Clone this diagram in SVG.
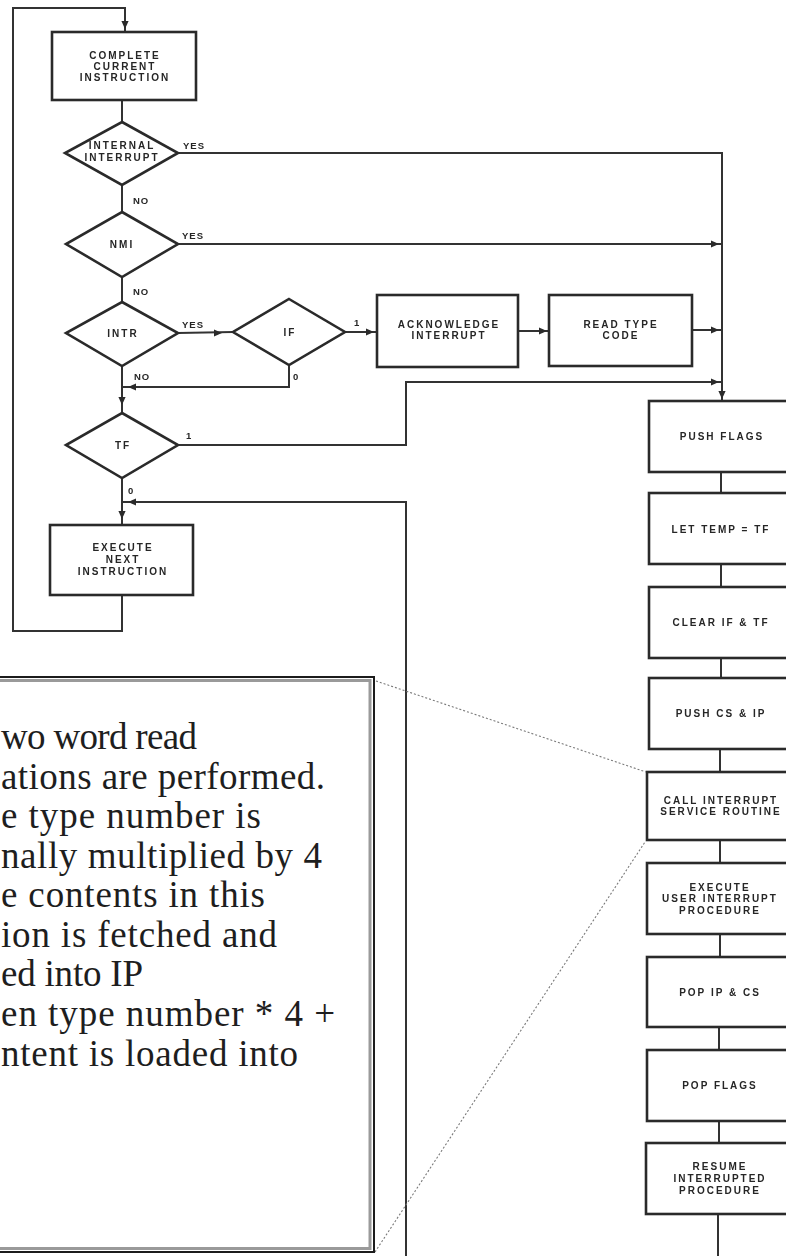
<svg xmlns="http://www.w3.org/2000/svg" xmlns:xlink="http://www.w3.org/1999/xlink" width="786" height="1256" viewBox="0 0 786 1256">
  <defs>
    <style>
      .box { fill: #ffffff; stroke: #2a2a2a; stroke-width: 2.6; }
      .dia { fill: #ffffff; stroke: #2a2a2a; stroke-width: 2.6; stroke-linejoin: miter; }
      .wire { fill: none; stroke: #333333; stroke-width: 2; }
      .lbl { font-family: "Liberation Sans", Arial, sans-serif; font-weight: bold; font-size: 10px; letter-spacing: 2px; fill: #262626; text-anchor: middle; }
      .tag { font-family: "Liberation Sans", Arial, sans-serif; font-weight: bold; font-size: 9.5px; letter-spacing: 1px; fill: #262626; }
      .note { font-family: "Liberation Serif", "Times New Roman", serif; font-size: 37px; fill: #1e1e1e; }
      .lead { fill: none; stroke: #7a7a7a; stroke-width: 1.1; stroke-dasharray: 2 2; }
    </style>
    <path id="ah" d="M0,0 L-8,-3.6 L-8,3.6 Z" fill="#2a2a2a"/>
    <filter id="soft" x="-5%" y="-5%" width="110%" height="110%">
      <feGaussianBlur stdDeviation="0.45"/>
    </filter>
  </defs>

  <rect x="0" y="0" width="786" height="1256" fill="#ffffff"/>

  <g filter="url(#soft)">
    <!-- connectors -->
    <g id="connectors">
      <!-- loop back from Execute Next Instruction to the top -->
      <polyline class="wire" points="122,595 122,631 13,631 13,8 125,8 125,32"/>
      <!-- decision chain down the left column -->
      <line class="wire" x1="122" y1="100" x2="122" y2="122"/>
      <line class="wire" x1="122" y1="185" x2="122" y2="212"/>
      <line class="wire" x1="122" y1="277" x2="122" y2="302"/>
      <line class="wire" x1="122" y1="366" x2="122" y2="413"/>
      <line class="wire" x1="122" y1="478" x2="122" y2="525"/>
      <!-- YES branches to the service sequence -->
      <polyline class="wire" points="178,153 722,153 722,401"/>
      <line class="wire" x1="178" y1="244" x2="722" y2="244"/>
      <line class="wire" x1="178" y1="333" x2="233" y2="332"/>
      <line class="wire" x1="345" y1="332" x2="377" y2="332"/>
      <line class="wire" x1="518" y1="331" x2="549" y2="331"/>
      <line class="wire" x1="692" y1="330" x2="722" y2="330"/>
      <!-- IF = 0 rejoins before TF -->
      <polyline class="wire" points="289,365 289,387 122,387"/>
      <!-- TF = 1 path -->
      <polyline class="wire" points="178,445 406,445 406,382 722,382"/>
      <!-- return from the service sequence -->
      <polyline class="wire" points="406,1256 406,502 122,502"/>
      <!-- right column links -->
      <line class="wire" x1="721" y1="472" x2="721" y2="493"/>
      <line class="wire" x1="721" y1="564" x2="721" y2="587"/>
      <line class="wire" x1="721" y1="658" x2="721" y2="678"/>
      <line class="wire" x1="720" y1="749" x2="720" y2="772"/>
      <line class="wire" x1="720" y1="840" x2="720" y2="863"/>
      <line class="wire" x1="720" y1="934" x2="720" y2="957"/>
      <line class="wire" x1="719" y1="1027" x2="719" y2="1050"/>
      <line class="wire" x1="719" y1="1121" x2="719" y2="1143"/>
      <line class="wire" x1="718" y1="1214" x2="718" y2="1256"/>

      <!-- arrowheads -->
      <use xlink:href="#ah" transform="translate(125,29) rotate(90)"/>
      <use xlink:href="#ah" transform="translate(222,333)"/>
      <use xlink:href="#ah" transform="translate(374,332)"/>
      <use xlink:href="#ah" transform="translate(547,331)"/>
      <use xlink:href="#ah" transform="translate(719,330)"/>
      <use xlink:href="#ah" transform="translate(719,244)"/>
      <use xlink:href="#ah" transform="translate(719,382)"/>
      <use xlink:href="#ah" transform="translate(722,399) rotate(90)"/>
      <use xlink:href="#ah" transform="translate(128,387) rotate(180)"/>
      <use xlink:href="#ah" transform="translate(122,405) rotate(90)"/>
      <use xlink:href="#ah" transform="translate(128,502) rotate(180)"/>
      <use xlink:href="#ah" transform="translate(122,519) rotate(90)"/>

      <!-- branch labels -->
      <text class="tag" x="183" y="149">YES</text>
      <text class="tag" x="133" y="204">NO</text>
      <text class="tag" x="182" y="239">YES</text>
      <text class="tag" x="133" y="295">NO</text>
      <text class="tag" x="182" y="328">YES</text>
      <text class="tag" x="354" y="326">1</text>
      <text class="tag" x="134" y="380">NO</text>
      <text class="tag" x="293" y="380">0</text>
      <text class="tag" x="186" y="439">1</text>
      <text class="tag" x="128" y="494">0</text>
    </g>

    <!-- left column -->
    <g id="complete-current">
      <rect class="box" x="52" y="32" width="144" height="68"/>
      <text class="lbl" x="125" y="59">COMPLETE</text>
      <text class="lbl" x="125" y="70">CURRENT</text>
      <text class="lbl" x="125" y="81">INSTRUCTION</text>
    </g>
    <g id="internal-interrupt">
      <polygon class="dia" points="122,122 178,153 122,185 65,153"/>
      <text class="lbl" x="122" y="149">INTERNAL</text>
      <text class="lbl" x="122" y="161">INTERRUPT</text>
    </g>
    <g id="nmi">
      <polygon class="dia" points="122,212 178,244 122,277 66,244"/>
      <text class="lbl" x="122" y="248">NMI</text>
    </g>
    <g id="intr">
      <polygon class="dia" points="122,302 178,333 122,366 66,333"/>
      <text class="lbl" x="123" y="337">INTR</text>
    </g>
    <g id="if">
      <polygon class="dia" points="289,299 345,332 289,365 233,332"/>
      <text class="lbl" x="290" y="336">IF</text>
    </g>
    <g id="acknowledge">
      <rect class="box" x="377" y="295" width="141" height="72"/>
      <text class="lbl" x="449" y="328">ACKNOWLEDGE</text>
      <text class="lbl" x="449" y="339">INTERRUPT</text>
    </g>
    <g id="read-type">
      <rect class="box" x="549" y="295" width="143" height="71"/>
      <text class="lbl" x="621" y="328">READ TYPE</text>
      <text class="lbl" x="621" y="339">CODE</text>
    </g>
    <g id="tf">
      <polygon class="dia" points="122,413 178,445 122,478 66,445"/>
      <text class="lbl" x="123" y="449">TF</text>
    </g>
    <g id="execute-next">
      <rect class="box" x="50" y="525" width="143" height="70"/>
      <text class="lbl" x="123" y="551">EXECUTE</text>
      <text class="lbl" x="123" y="563">NEXT</text>
      <text class="lbl" x="123" y="575">INSTRUCTION</text>
    </g>

    <!-- right column: interrupt service sequence -->
    <g id="push-flags">
      <rect class="box" x="649" y="401" width="148" height="71"/>
      <text class="lbl" x="722" y="440">PUSH FLAGS</text>
    </g>
    <g id="let-temp">
      <rect class="box" x="649" y="493" width="148" height="71"/>
      <text class="lbl" x="721" y="533">LET TEMP = TF</text>
    </g>
    <g id="clear-if-tf">
      <rect class="box" x="649" y="587" width="148" height="71"/>
      <text class="lbl" x="721" y="626">CLEAR IF &amp; TF</text>
    </g>
    <g id="push-cs-ip">
      <rect class="box" x="649" y="678" width="148" height="71"/>
      <text class="lbl" x="721" y="717">PUSH CS &amp; IP</text>
    </g>
    <g id="call-isr">
      <rect class="box" x="647" y="772" width="150" height="68"/>
      <text class="lbl" x="721" y="804">CALL INTERRUPT</text>
      <text class="lbl" x="721" y="815">SERVICE ROUTINE</text>
    </g>
    <g id="execute-user">
      <rect class="box" x="647" y="863" width="150" height="71"/>
      <text class="lbl" x="720" y="891">EXECUTE</text>
      <text class="lbl" x="720" y="902">USER INTERRUPT</text>
      <text class="lbl" x="720" y="914">PROCEDURE</text>
    </g>
    <g id="pop-ip-cs">
      <rect class="box" x="647" y="957" width="150" height="70"/>
      <text class="lbl" x="720" y="996">POP IP &amp; CS</text>
    </g>
    <g id="pop-flags">
      <rect class="box" x="647" y="1050" width="150" height="71"/>
      <text class="lbl" x="720" y="1089">POP FLAGS</text>
    </g>
    <g id="resume">
      <rect class="box" x="646" y="1143" width="151" height="71"/>
      <text class="lbl" x="720" y="1170">RESUME</text>
      <text class="lbl" x="720" y="1182">INTERRUPTED</text>
      <text class="lbl" x="720" y="1194">PROCEDURE</text>
    </g>
  </g>

  <!-- callout leader lines -->
  <g id="callout-leads">
    <line class="lead" x1="376" y1="681" x2="646" y2="772"/>
    <line class="lead" x1="375" y1="1252" x2="645" y2="842"/>
  </g>

  <!-- explanatory note panel -->
  <g id="note">
    <rect x="-10" y="677" width="384" height="575" fill="#ffffff" stroke="#1c1c1c" stroke-width="2"/>
    <rect x="-10" y="680.5" width="380" height="568" fill="none" stroke="#9a9a9a" stroke-width="3"/>
    <text class="note" x="1" y="749" textLength="196" lengthAdjust="spacing">wo word read</text>
    <text class="note" x="1" y="789" textLength="324" lengthAdjust="spacing">ations are performed.</text>
    <text class="note" x="1" y="828" textLength="260" lengthAdjust="spacing">e type number is</text>
    <text class="note" x="1" y="868" textLength="321" lengthAdjust="spacing">nally multiplied by 4</text>
    <text class="note" x="1" y="907" textLength="264" lengthAdjust="spacing">e contents in this</text>
    <text class="note" x="1" y="947" textLength="276" lengthAdjust="spacing">ion is fetched and</text>
    <text class="note" x="1" y="986" textLength="142" lengthAdjust="spacing">ed into IP</text>
    <text class="note" x="1" y="1026" textLength="334" lengthAdjust="spacing">en type number * 4 +</text>
    <text class="note" x="1" y="1066" textLength="297" lengthAdjust="spacing">ntent is  loaded into</text>
  </g>
</svg>
